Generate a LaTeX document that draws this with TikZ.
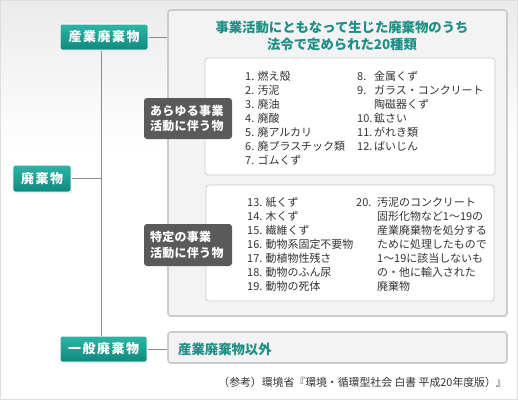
\documentclass[tikz,border=0pt]{standalone}
\usepackage{fontspec}
\setmainfont{Noto Sans CJK JP}
\usetikzlibrary{shadows}
\definecolor{tealtxt}{HTML}{1E8F86}
\definecolor{tealtop}{HTML}{2DB5A6}
\definecolor{tealbot}{HTML}{10897D}
\definecolor{boxfill}{HTML}{F3F3F3}
\definecolor{boxline}{HTML}{CBCBCB}
\definecolor{darklab}{HTML}{5A5A5A}
\definecolor{conncol}{HTML}{8C8C8C}
\definecolor{bodytxt}{HTML}{333333}
\begin{document}
\begin{tikzpicture}[x=1bp,y=-1bp,
  greenbox/.style={rectangle, rounded corners=2bp, draw=white, line width=1bp,
    top color=tealtop, bottom color=tealbot, text=white, inner sep=0pt,
    font=\fontsize{13}{15}\selectfont\bfseries\addfontfeature{LetterSpace=12},
    drop shadow={opacity=0.25, shadow xshift=0.6bp, shadow yshift=-1bp}},
  graybox/.style={rectangle, rounded corners=3bp, draw=boxline, line width=1.6bp, fill=boxfill, inner sep=0pt},
  whitebox/.style={rectangle, rounded corners=3bp, draw=boxline, line width=0.8bp, fill=white, inner sep=0pt},
  darkbox/.style={rectangle, rounded corners=3bp, fill=darklab, text=white, inner sep=0pt,
    align=left, font=\fontsize{12}{16}\selectfont\bfseries\addfontfeature{LetterSpace=3}},
  listtxt/.style={inner sep=0pt, anchor=base west, text=bodytxt,
    font=\fontsize{11}{14.2}\selectfont},
  tealtext/.style={inner sep=0pt, text=tealtxt, font=\fontsize{13.4}{17}\selectfont\bfseries},
  conn/.style={draw=conncol, line width=1bp}
]
\useasboundingbox (0,0) rectangle (518,400);
\fill[white] (0,0) rectangle (518,400);
\shade[top color=black!8, bottom color=white] (0,0) rectangle (518,150);
\draw[black!13, line width=1bp] (0.5,0.5) rectangle (517.5,399.5);

% big boxes
\node[graybox, minimum width=339bp, minimum height=306bp] (big) at (337.5,163) {};
\node[graybox, minimum width=339bp, minimum height=31bp] (other) at (337.5,347.5) {};
\node[whitebox, minimum width=290bp, minimum height=117bp] (box1) at (350,116.5) {};
\node[whitebox, minimum width=288bp, minimum height=116bp] (box2) at (350,243) {};

% title
\node[tealtext, align=center] (title) at (342,35.5) {事業活動にともなって生じた廃棄物のうち\\法令で定められた20種類};
\node[tealtext, anchor=west] (othertxt) at (178,349) {産業廃棄物以外};

% lists
\node[listtxt] (l1a) at (245,80) {\begin{tabular}[t]{@{}l@{}}
1. 燃え殻\\ 2. 汚泥\\ 3. 廃油\\ 4. 廃酸\\ 5. 廃アルカリ\\ 6. 廃プラスチック類\\ 7. ゴムくず
\end{tabular}};
\node[listtxt] (l1b) at (357,80) {\begin{tabular}[t]{@{}p{17bp}@{}l@{}}
8. & 金属くず\\ 9. & ガラス・コンクリート\\ & 陶磁器くず\\ 10. & 鉱さい\\ 11. & がれき類\\ 12. & ばいじん
\end{tabular}};
\node[listtxt] (l2a) at (247,206) {\begin{tabular}[t]{@{}l@{}}
13. 紙くず\\ 14. 木くず\\ 15. 繊維くず\\ 16. 動物系固定不要物\\ 17. 動植物性残さ\\ 18. 動物のふん尿\\ 19. 動物の死体
\end{tabular}};
\node[listtxt] (l2b) at (356,206) {\begin{tabular}[t]{@{}p{21bp}@{}l@{}}
20. & 汚泥のコンクリート\\ & 固形化物など1～19の\\ & 産業廃棄物を処分する\\ & ために処理したもので\\ & 1～19に該当しないも\\ & の・他に輸入された\\ & 廃棄物
\end{tabular}};

% dark labels
\node[darkbox, minimum width=88bp, minimum height=41bp, text width=76bp] (lab1) at (188,118.5) {あらゆる事業\\活動に伴う物};
\node[darkbox, minimum width=88bp, minimum height=42bp, text width=76bp] (lab2) at (188,245) {特定の事業\\活動に伴う物};

% green nodes
\node[greenbox, minimum width=88bp, minimum height=26bp] (sangyo) at (104,37) {産業廃棄物};
\node[greenbox, minimum width=58bp, minimum height=27bp] (haiki) at (42,178.5) {廃棄物};
\node[greenbox, minimum width=87bp, minimum height=26bp] (ippan) at (103.5,349) {一般廃棄物};

% connectors
\coordinate (vx) at (101,0);
\draw[conn] (sangyo.south -| vx) -- (ippan.north -| vx);
\draw[conn] (haiki.east) -- (haiki.east -| vx);
\draw[conn] (sangyo.east) -- (big.west |- sangyo.east);
\draw[conn] (ippan.east) -- (other.west |- ippan.east);

% footnote
\node[inner sep=0pt, anchor=east, text=bodytxt, font=\fontsize{10.9}{12}\selectfont] (note) at (507,382) {（参考）環境省『環境・循環型社会 白書 平成20年度版）』};
\end{tikzpicture}
\end{document}
